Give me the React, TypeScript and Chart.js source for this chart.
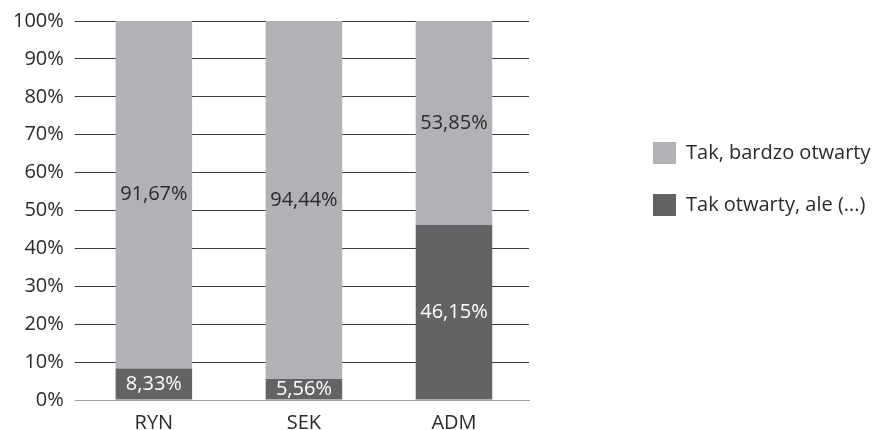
import React, { useEffect, useRef } from 'react';
import { Chart, registerables } from 'chart.js';

Chart.register(...registerables);

const categories = ['RYN', 'SEK', 'ADM'];
const seriesNames = ['Tak otwarty, ale (...)', 'Tak, bardzo otwarty'];
const otwartyAle = [8.33, 5.56, 46.15];
const bardzoOtwarty = [91.67, 94.44, 53.85];
const seriesColors = ['#636366', '#b2b2b6'];
const labelColors = ['#ffffff', '#2a2a2a'];

const FONT = "'Open Sans', 'Noto Sans', sans-serif";
const LEGEND_W = 357;
const LEGEND_SHIFT_X = 94;
const LEGEND_SHIFT_Y = 112;

const fmt = (v: number) => v.toFixed(2).replace('.', ',') + '%';

const valueLabels = {
  id: 'valueLabels',
  afterDatasetsDraw(chart: any) {
    const ctx = chart.ctx;
    chart.data.datasets.forEach((ds: any, di: number) => {
      const meta = chart.getDatasetMeta(di);
      meta.data.forEach((el: any, i: number) => {
        const v = ds.data[i] as number;
        const { x, y, base } = el.getProps(['x', 'y', 'base'], true);
        ctx.save();
        ctx.font = `20px ${FONT}`;
        ctx.fillStyle = labelColors[di];
        ctx.textAlign = 'center';
        ctx.textBaseline = 'middle';
        ctx.fillText(fmt(v), x, (y + base) / 2);
        ctx.restore();
      });
    });
  },
};

const legendPlacement = {
  id: 'legendPlacement',
  beforeInit(chart: any) {
    const legend = chart.legend;
    if (!legend) return;
    const fit = legend.fit;
    legend.fit = function () {
      fit.call(this);
      this.width = LEGEND_W;
    };
  },
  afterLayout(chart: any) {
    const legend = chart.legend;
    if (!legend) return;
    legend.left += LEGEND_SHIFT_X;
    legend.right += LEGEND_SHIFT_X;
    legend.top += LEGEND_SHIFT_Y;
    legend.bottom += LEGEND_SHIFT_Y;
  },
};

export default function App() {
  const ref = useRef<HTMLCanvasElement | null>(null);

  useEffect(() => {
    if (!ref.current) return;
    const chart = new Chart(ref.current, {
      type: 'bar',
      data: {
        labels: categories,
        datasets: [
          {
            label: seriesNames[0],
            data: otwartyAle,
            backgroundColor: seriesColors[0],
            borderWidth: 0,
            barPercentage: 0.51,
            categoryPercentage: 1,
          },
          {
            label: seriesNames[1],
            data: bardzoOtwarty,
            backgroundColor: seriesColors[1],
            borderWidth: 0,
            barPercentage: 0.51,
            categoryPercentage: 1,
          },
        ],
      },
      options: {
        responsive: false,
        animation: false,
        layout: { padding: { left: 2, top: 0, right: 0, bottom: -16 } },
        plugins: {
          tooltip: { enabled: false },
          legend: {
            position: 'right',
            align: 'start',
            reverse: true,
            labels: {
              boxWidth: 23,
              boxHeight: 22,
              padding: 30,
              color: '#2a2a2a',
              font: { family: FONT, size: 20 },
            },
          },
        },
        scales: {
          x: {
            stacked: true,
            grid: { display: false, drawTicks: false, tickLength: 0 },
            border: { display: true, color: '#a0a0a0', width: 1 },
            ticks: { color: '#2a2a2a', font: { family: FONT, size: 20 }, padding: 11 },
          },
          y: {
            stacked: true,
            min: 0,
            max: 100,
            border: { display: false },
            grid: {
              color: (c: any) => (c.tick && c.tick.value === 0 ? '#a0a0a0' : '#3a3a3a'),
              lineWidth: 1,
              tickLength: 4,
              drawTicks: true,
            },
            ticks: {
              stepSize: 10,
              color: '#2a2a2a',
              font: { family: FONT, size: 20, lineHeight: 1 },
              padding: 11,
              callback: (v: any) => v + '%',
            },
          },
        },
      },
      plugins: [valueLabels, legendPlacement],
    });
    return () => chart.destroy();
  }, []);

  return (
    <div style={{ position: 'absolute', left: 0, top: 0, width: 886, height: 430, background: '#fff' }}>
      <canvas ref={ref} width={886} height={430} />
    </div>
  );
}
